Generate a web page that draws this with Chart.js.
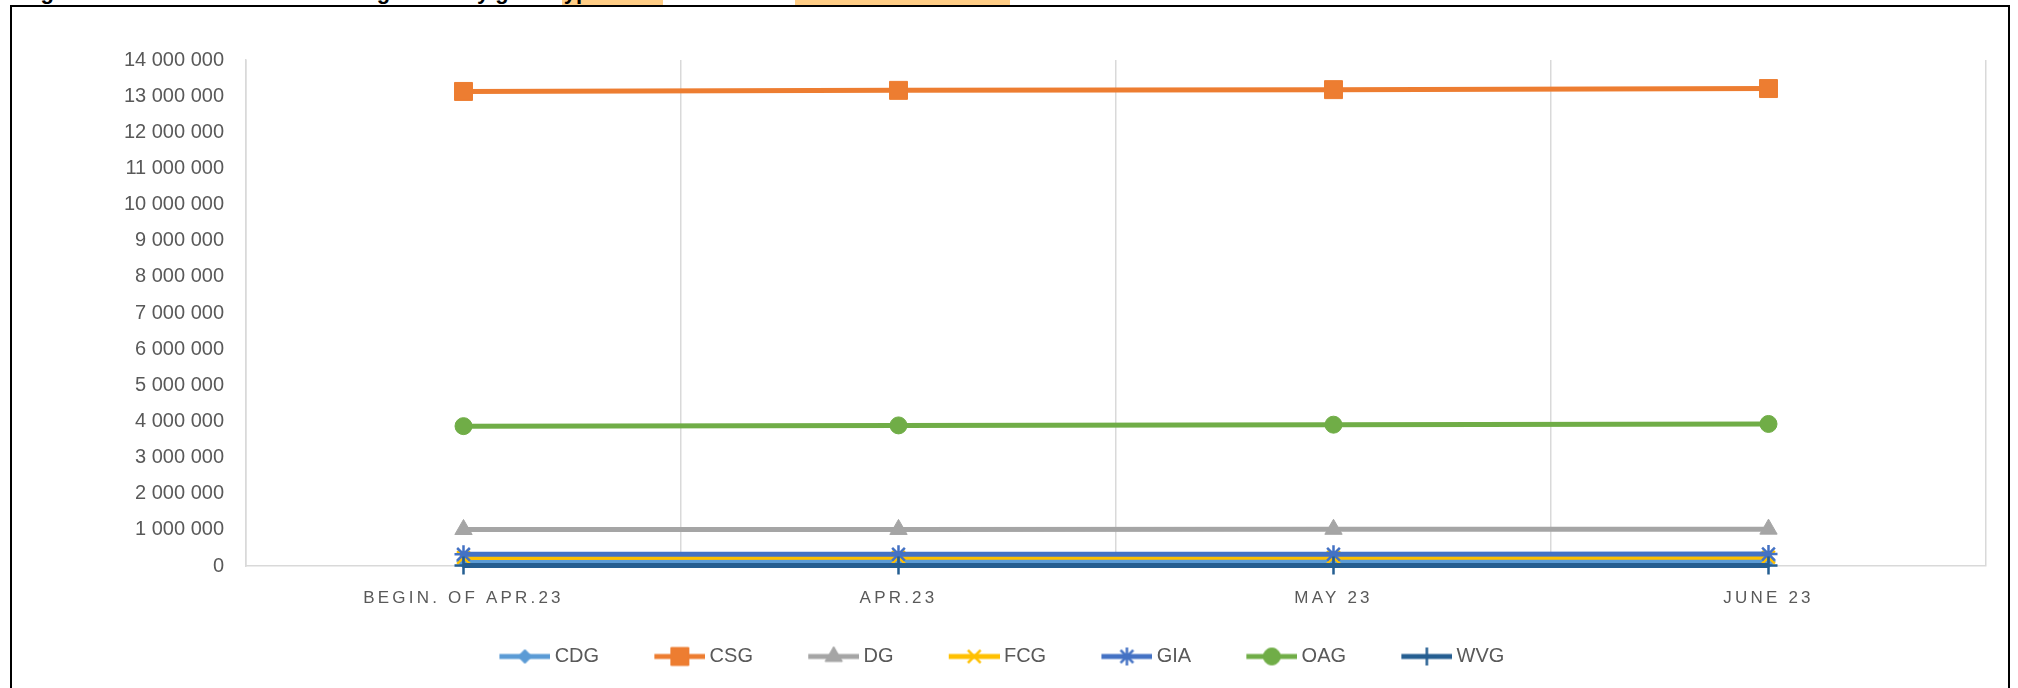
<!DOCTYPE html>
<html><head><meta charset="utf-8">
<script src="https://cdn.jsdelivr.net/npm/chart.js@4.4.0/dist/chart.umd.min.js"></script>
<style>
html,body{margin:0;padding:0;background:#fff;width:2018px;height:688px;overflow:hidden;font-family:'Liberation Sans',Arial,sans-serif}
.frame{position:absolute;left:10px;top:5px;width:1996px;height:700px;border:2px solid #000;background:#fff}
.hl{position:absolute;top:0;height:5px;background:#FFCD85}
.title{position:absolute;left:21px;top:-21px;font-weight:bold;font-size:22px;line-height:26px;white-space:nowrap;color:#000}
.wrap{position:absolute;left:-50px;top:8px;width:2058px;height:680px}
</style></head>
<body>
<div class="frame"></div>
<div class="hl" style="left:562px;width:101px"></div>
<div class="hl" style="left:795px;width:215px"></div>
<div class="title">Figure 1: Number of beneficiaries granted by grant type</div>
<div class="wrap"><canvas id="chart"></canvas></div>
<script>
/* ============================================================
   DATA
   ============================================================ */
var categories=['BEGIN. OF APR.23','APR.23','MAY 23','JUNE 23'];
var seriesNames=['CDG','CSG','DG','FCG','GIA','OAG','WVG'];
var cdg=[138000,139000,140000,141000];
var csg=[13130000,13160000,13180000,13210000];
var dg=[1010000,1012000,1016000,1020000];
var fcg=[238000,240000,242000,244000];
var gia=[322000,325000,328000,332000];
var oag=[3870000,3890000,3910000,3930000];
var wvg=[12000,12000,12000,12000];
var yMin=0,yMax=14000000,yStep=1000000;

/* ============================================================
   STYLE
   ============================================================ */
var seriesValues=[cdg,csg,dg,fcg,gia,oag,wvg];
var colors=['#5B9BD5','#ED7D31','#A5A5A5','#FFC000','#4472C4','#70AD47','#255E91'];
var markers=['rectRot','rect','triangle','crossRot','star','circle','cross'];
var markerRadius=[7,12.7,10,9,9,8.5,9];
var markerBorder=[1,1,1,2.5,2.5,1,2.5];
var LEG_W=90.5;
var TXT='#595959';
var FONT="'Liberation Sans', Arial, sans-serif";

function fmt(v){return String(v).replace(/\B(?=(\d{3})+(?!\d))/g,' ');}

/* legend swatch: line with the marker in its middle */
function legendImg(i){
    var c=document.createElement('canvas');c.width=Math.round(LEG_W+11);c.height=30;
    var x=c.getContext('2d');
    x.strokeStyle=colors[i];x.fillStyle=colors[i];x.lineWidth=5;
    x.beginPath();x.moveTo(c.width-51,15);x.lineTo(c.width,15);x.stroke();
    x.lineWidth=markerBorder[i];
    Chart.helpers.drawPoint(x,{pointStyle:markers[i],radius:markerRadius[i],rotation:0,borderWidth:markerBorder[i]},c.width-25.5,15);
    return c;
}

var datasets=seriesNames.map(function(n,i){
    return {label:n,data:seriesValues[i],borderColor:colors[i],backgroundColor:colors[i],borderWidth:5,
        pointStyle:markers[i],pointRadius:markerRadius[i],pointBorderWidth:markerBorder[i],
        pointBackgroundColor:colors[i],pointBorderColor:colors[i],tension:0,clip:false,order:seriesNames.length-i};
});

/* x labels are spaced out like the original */
var spacing={id:'spacing',
    afterDatasetsDraw:function(c){c.ctx.letterSpacing='3.2px';},
    afterDraw:function(c){c.ctx.letterSpacing='0px';}};

/* ============================================================
   CHART
   ============================================================ */
new Chart(document.getElementById('chart'),{
    type:'line',
    data:{labels:categories,datasets:datasets},
    plugins:[spacing],
    options:{
        responsive:true,maintainAspectRatio:false,animation:false,
        layout:{padding:{left:22.5,right:22,top:52,bottom:11.5}},
        plugins:{
            tooltip:{enabled:false},
            legend:{position:'bottom',labels:{
                usePointStyle:true,pointStyleWidth:LEG_W,padding:10,color:TXT,font:{family:FONT,size:20},
                generateLabels:function(ch){
                    return ch.data.datasets.map(function(d,i){
                        return {text:d.label,pointStyle:legendImg(i),fillStyle:colors[i],strokeStyle:colors[i],lineWidth:0,hidden:false,datasetIndex:i,fontColor:TXT};
                    });
                }}}
        },
        scales:{
            x:{offset:true,
                grid:{offset:true,color:'#D9D9D9',lineWidth:1.5,drawTicks:false},
                border:{color:'#D9D9D9',width:1.5},
                ticks:{z:1,color:TXT,font:{family:FONT,size:17},padding:22,maxRotation:0,autoSkip:false},
                afterFit:function(s){s.height=70.5;}},
            y:{min:yMin,max:yMax,
                grid:{display:false,drawTicks:false},
                border:{display:true,color:'#D9D9D9',width:1.5},
                ticks:{stepSize:yStep,color:TXT,font:{family:FONT,size:20},padding:22,callback:function(v){return fmt(v);}},
                afterFit:function(s){s.width=273.5;}}
        }
    }
});
</script>
</body></html>
